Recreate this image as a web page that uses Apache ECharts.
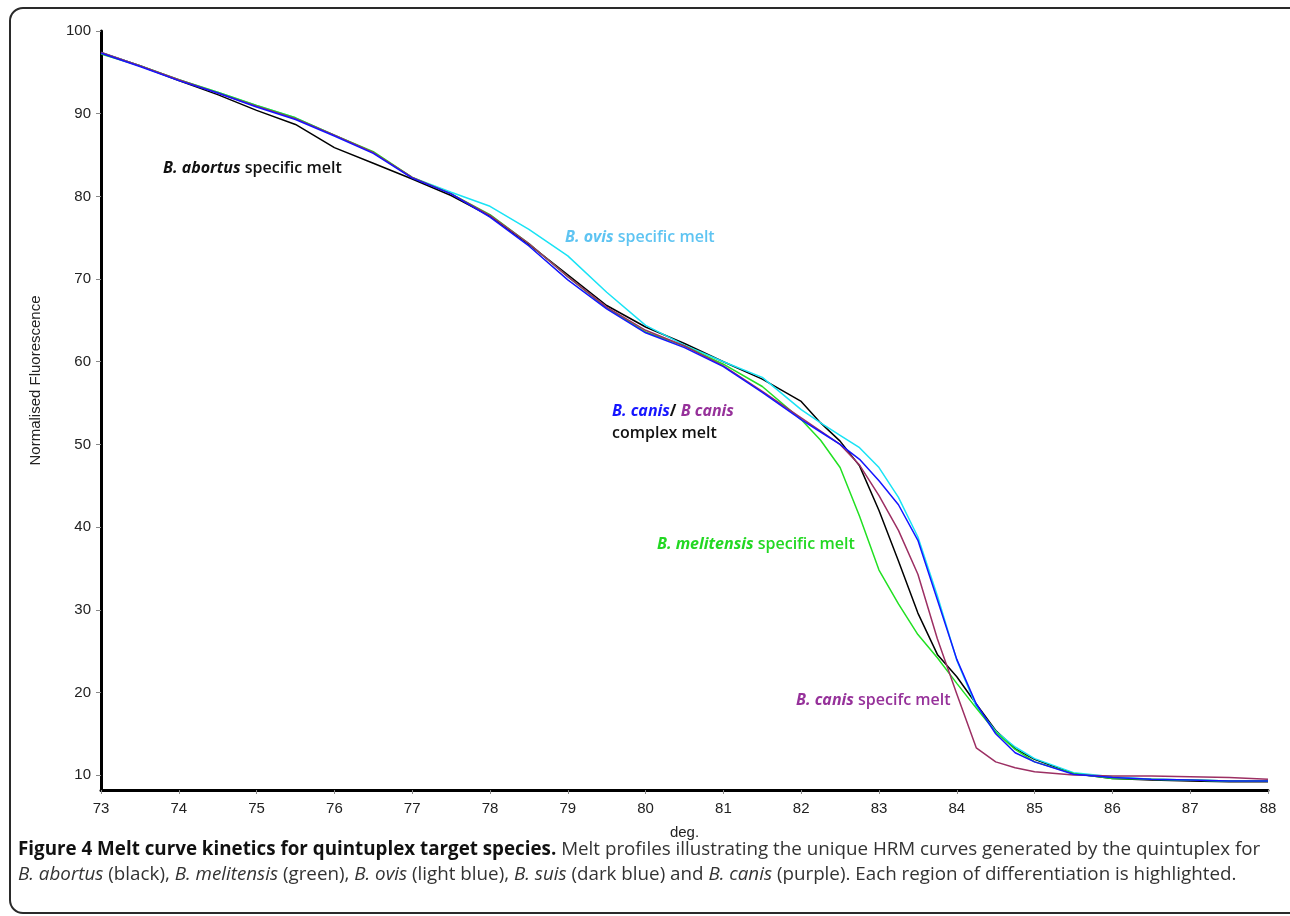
<!DOCTYPE html>
<html>
<head>
<meta charset="utf-8">
<script src="https://cdn.jsdelivr.net/npm/echarts@6/dist/echarts.min.js"></script>
<style>
  html, body { margin: 0; padding: 0; background: #fff; }
  #wrap { position: relative; width: 1290px; height: 916px; overflow: hidden; }
  #frame {
    position: absolute; left: 9px; top: 7px; width: 1300px; height: 907px;
    border: 2px solid #2a2a2a; border-radius: 14px; box-sizing: border-box;
  }
  #chart { position: absolute; left: 0; top: 0; width: 1290px; height: 916px; }
  .cap {
    position: absolute; left: 18px; top: 836px; white-space: nowrap;
    font-family: "Open Sans", sans-serif; font-size: 18.8px; line-height: 25px;
    color: #333;
  }
  .cap b { color: #111; font-weight: 700; }
</style>
</head>
<body>
<div id="wrap">
  <div id="frame"></div>
  <div id="chart"></div>
  <div class="cap" id="cap">
    <b>Figure 4 Melt curve kinetics for quintuplex target species.</b> Melt profiles illustrating the unique HRM curves generated by the quintuplex for<br>
    <i>B. abortus</i> (black), <i>B. melitensis</i> (green), <i>B. ovis</i> (light blue), <i>B. suis</i> (dark blue) and <i>B. canis</i> (purple). Each region of differentiation is highlighted.
  </div>
</div>
<script>
// temperature (deg.) sampled along the melt curves
const temps = [73, 73.5, 74, 74.5, 75, 75.5, 76, 76.5, 77, 77.5, 78, 78.5, 79, 79.5, 80, 80.5, 81, 81.5,
  82, 82.25, 82.5, 82.75, 83, 83.25, 83.5, 83.75, 84, 84.25, 84.5, 84.75, 85, 85.5, 86, 86.5, 87, 87.5, 88];

// normalised fluorescence
const abortus = [97.4, 95.8, 94.0, 92.3, 90.4, 88.7, 85.9, 84.0, 82.1, 80.1, 77.6, 74.2, 70.5, 66.8, 64.2, 62.2, 60.0, 57.9,
  55.2, 52.6, 50.4, 47.4, 42.0, 35.9, 29.6, 24.6, 21.9, 18.6, 15.4, 13.2, 11.9, 10.2, 9.6, 9.4, 9.3, 9.2, 9.2];
const melitensis = [97.2, 95.8, 94.1, 92.6, 91.0, 89.5, 87.4, 85.4, 82.3, 80.3, 77.8, 74.3, 70.3, 66.5, 63.6, 61.9, 59.7, 57.0,
  53.0, 50.5, 47.2, 41.3, 34.8, 30.7, 27.0, 24.2, 21.1, 18.1, 15.2, 13.1, 11.6, 10.2, 9.6, 9.5, 9.4, 9.3, 9.3];
const ovis = [97.4, 95.8, 94.1, 92.6, 91.0, 89.5, 87.4, 85.3, 82.3, 80.5, 78.8, 76.0, 72.8, 68.4, 64.4, 62.0, 60.0, 58.1,
  54.2, 52.6, 51.1, 49.6, 47.2, 43.6, 38.8, 31.7, 23.9, 18.3, 15.3, 13.4, 12.0, 10.3, 9.8, 9.5, 9.4, 9.3, 9.3];
const suis = [97.3, 95.7, 94.0, 92.5, 90.8, 89.3, 87.3, 85.2, 82.2, 80.3, 77.5, 74.0, 69.9, 66.4, 63.5, 61.7, 59.4, 56.3,
  53.0, 51.5, 50.0, 48.2, 45.6, 42.7, 38.4, 31.2, 24.0, 18.6, 15.0, 12.7, 11.6, 10.1, 9.7, 9.5, 9.4, 9.3, 9.3];
const canis = [97.4, 95.8, 94.1, 92.5, 90.9, 89.4, 87.4, 85.3, 82.3, 80.3, 77.7, 74.3, 70.3, 66.6, 63.8, 61.9, 59.5, 56.4,
  53.2, 51.6, 50.0, 47.5, 43.8, 39.6, 34.3, 26.5, 19.8, 13.3, 11.6, 10.9, 10.4, 10.0, 9.9, 9.9, 9.8, 9.7, 9.5];

const yTicks = [10, 20, 30, 40, 50, 60, 70, 80, 90, 100];

function pairs(vals) {
  return temps.map((t, i) => [t, vals[i]]);
}

function curve(name, vals, color) {
  return {
    name: name,
    type: "line",
    data: pairs(vals),
    showSymbol: false,
    smooth: false,
    lineStyle: { color: color, width: 1.5 },
    itemStyle: { color: color },
    z: 3,
  };
}

// rich text pieces for the annotations (zrender text uses fill, not color)
function piece(fill, italic, weight) {
  return {
    fill: fill,
    fontStyle: italic ? "italic" : "normal",
    fontWeight: weight,
    fontFamily: "Open Sans",
    fontSize: 16,
  };
}

function note(x, y, text, rich) {
  return {
    type: "text",
    x: x,
    y: y,
    style: {
      text: text,
      verticalAlign: "middle",
      fontFamily: "Open Sans",
      fontSize: 16,
      rich: rich,
    },
  };
}

const axisFont = { fontFamily: "Liberation Sans", fontSize: 15, color: "#222" };

const myChart = echarts.init(document.getElementById("chart"));
const option = {
  animation: false,
  grid: { left: 101, right: 22, top: 31, bottom: 126 },
  xAxis: {
    type: "value",
    min: 73,
    max: 88,
    interval: 1,
    name: "deg.",
    nameLocation: "middle",
    nameGap: 35,
    nameTextStyle: axisFont,
    axisLine: { show: true, lineStyle: { color: "#000", width: 3 } },
    axisTick: { show: true, length: 4, lineStyle: { color: "#888" } },
    axisLabel: Object.assign({ margin: 11 }, axisFont),
    splitLine: { show: false },
  },
  yAxis: {
    type: "value",
    min: 8.2,
    max: 100,
    name: "Normalised Fluorescence",
    nameLocation: "middle",
    nameGap: 58,
    nameTextStyle: Object.assign({ padding: [0, 0, 0, 60] }, axisFont),
    axisLine: { show: true, lineStyle: { color: "#000", width: 3 } },
    axisTick: { show: true, length: 5, customValues: yTicks, lineStyle: { color: "#888" } },
    axisLabel: Object.assign({ margin: 10, customValues: yTicks }, axisFont),
    splitLine: { show: false },
  },
  series: [
    curve("B. abortus", abortus, "#000000"),
    curve("B. ovis", ovis, "#19e3f5"),
    curve("B. melitensis", melitensis, "#22e022"),
    curve("B. canis", canis, "#9c2f63"),
    curve("B. suis", suis, "#1515ff"),
  ],
  graphic: [
    note(163, 168, "{bi|B. abortus} {n|specific melt}", {
      bi: piece("#111", true, 700),
      n: piece("#111", false, 600),
    }),
    note(565, 237, "{bi|B. ovis} {n|specific melt}", {
      bi: piece("#5ec4f2", true, 700),
      n: piece("#5ec4f2", false, 600),
    }),
    note(612, 411, "{b|B. canis}{k|/ }{p|B canis}", {
      b: piece("#1515ff", true, 700),
      k: piece("#111", false, 700),
      p: piece("#96319a", true, 700),
    }),
    note(612, 433, "{n|complex melt}", {
      n: piece("#111", false, 600),
    }),
    note(657, 544, "{bi|B. melitensis} {n|specific melt}", {
      bi: piece("#22d822", true, 700),
      n: piece("#22d822", false, 600),
    }),
    note(796, 700, "{bi|B. canis} {n|specifc melt}", {
      bi: piece("#96319a", true, 700),
      n: piece("#96319a", false, 600),
    }),
  ],
};
myChart.setOption(option);
</script>
</body>
</html>
